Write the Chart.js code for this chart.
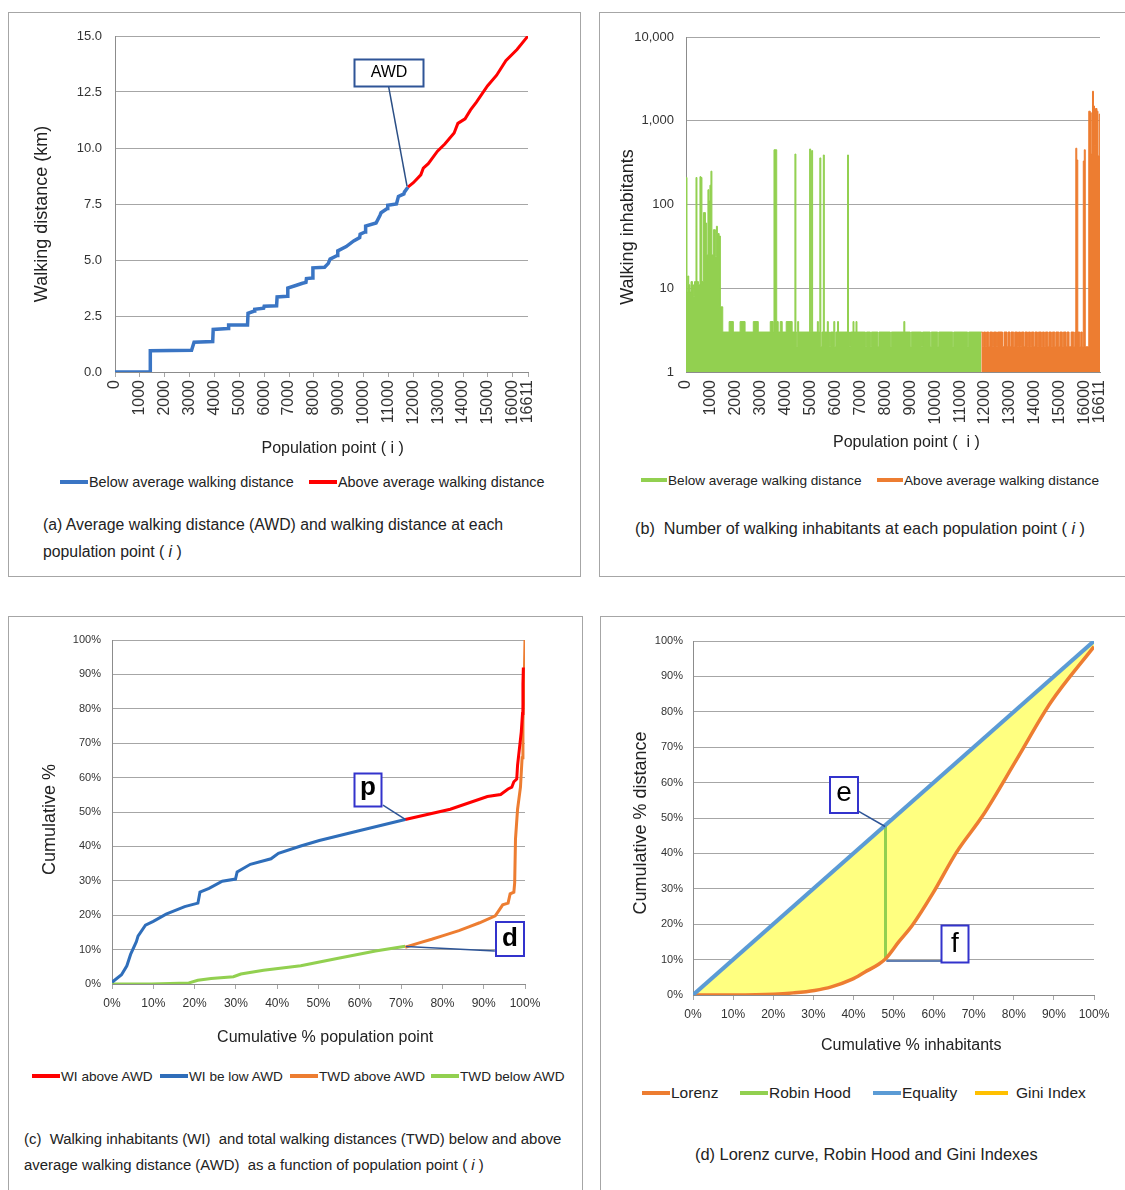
<!DOCTYPE html>
<html>
<head>
<meta charset="utf-8">
<script src="https://cdn.jsdelivr.net/npm/chart.js@4.4.1/dist/chart.umd.min.js"></script>
<style>
  body { margin: 0; background: #fff; width: 1125px; height: 1190px; position: relative; overflow: hidden;
         font-family: 'Liberation Sans', Arial, sans-serif; color: #222; }
  .panel { position: absolute; border: 1px solid #a6a6a6; box-sizing: border-box; }
  canvas { position: absolute; }
  .leg { position: absolute; font-size: 14.4px; line-height: 18px; white-space: nowrap; }
  .leg span { display: inline-block; width: 28px; height: 4px; vertical-align: middle; margin-right: 1px; position: relative; top: -1px; }
  .cap { position: absolute; font-size: 15.8px; line-height: 27px; white-space: nowrap; }
</style>
</head>
<body>
<div class="panel" style="left:8px;top:12px;width:573px;height:565px"></div>
<div class="panel" style="left:599px;top:12px;width:540px;height:565px"></div>
<div class="panel" style="left:8px;top:616px;width:575px;height:600px"></div>
<div class="panel" style="left:600px;top:616px;width:540px;height:600px"></div>

<canvas id="chartA" width="560" height="440" style="left:8px;top:20px"></canvas>
<canvas id="chartB" width="520" height="440" style="left:600px;top:20px"></canvas>
<canvas id="chartC" width="560" height="440" style="left:12px;top:625px"></canvas>
<canvas id="chartD" width="515" height="440" style="left:605px;top:625px"></canvas>

<div class="leg" style="left:60px;top:473px"><span style="background:#3a75c4"></span>Below average walking distance</div>
<div class="leg" style="left:309px;top:473px"><span style="background:#ff0000"></span>Above average walking distance</div>
<div class="cap" style="left:43px;top:511px">(a) Average walking distance (AWD) and walking distance at each<br>population point ( <i>i</i> )</div>

<div class="leg" style="left:641px;top:472px;font-size:13.6px"><span style="background:#92d050;width:26px"></span>Below average walking distance</div>
<div class="leg" style="left:877px;top:472px;font-size:13.6px"><span style="background:#ed7d31;width:26px"></span>Above average walking distance</div>
<div class="cap" style="left:635px;top:515px;font-size:16.2px">(b)&nbsp; Number of walking inhabitants at each population point ( <i>i</i> )</div>

<div class="leg" style="left:32px;top:1068px;font-size:13.6px"><span style="background:#ff0000"></span>WI above AWD</div>
<div class="leg" style="left:160px;top:1068px;font-size:13.6px"><span style="background:#2f6eba"></span>WI be low AWD</div>
<div class="leg" style="left:290px;top:1068px;font-size:13.6px"><span style="background:#ed7d31"></span>TWD above AWD</div>
<div class="leg" style="left:431px;top:1068px;font-size:13.6px"><span style="background:#92d050"></span>TWD below AWD</div>
<div class="cap" style="left:24px;top:1126px;line-height:26px;font-size:14.9px">(c)&nbsp; Walking inhabitants (WI)&nbsp; and total walking distances (TWD) below and above<br>average walking distance (AWD)&nbsp; as a function of population point ( <i>i</i> )</div>

<div class="leg" style="left:642px;top:1084px;font-size:15.5px"><span style="background:#ed7d31"></span>Lorenz</div>
<div class="leg" style="left:740px;top:1084px;font-size:15.5px"><span style="background:#92d050"></span>Robin Hood</div>
<div class="leg" style="left:873px;top:1084px;font-size:15.5px"><span style="background:#5b9bd5"></span>Equality</div>
<div class="leg" style="left:975px;top:1084px;font-size:15.5px"><span style="background:#ffc000;width:33px;margin-right:8px"></span>Gini Index</div>
<div class="cap" style="left:695px;top:1141px;font-size:16.4px">(d) Lorenz curve, Robin Hood and Gini Indexes</div>

<script>
const FONT = "'Liberation Sans', Arial, sans-serif";
Chart.defaults.font.family = FONT;
Chart.defaults.color = "#333";

// (a) walking distance (km) at population point i
const awdBelow = [[0, 0], [1410, 0], [1420, 0.95], [3080, 0.97], [3180, 1.33], [3930, 1.36], [3950, 1.9], [4550, 1.94],
  [4570, 2.1], [5330, 2.1], [5350, 2.62], [5600, 2.72], [5620, 2.8], [5980, 2.85], [6000, 2.94], [6500, 2.96],
  [6520, 3.35], [6930, 3.38], [6950, 3.75], [7240, 3.85], [7540, 3.96], [7680, 4.0], [7700, 4.17], [7940, 4.2],
  [7960, 4.65], [8430, 4.68], [8580, 4.85], [8650, 5.04], [8940, 5.2], [8960, 5.41], [9300, 5.6], [9600, 5.85],
  [9840, 6.0], [9860, 6.15], [10060, 6.25], [10080, 6.51], [10500, 6.65], [10660, 7.0], [10700, 7.11], [10950, 7.3],
  [10970, 7.44], [11320, 7.5], [11400, 7.84], [11620, 7.95], [11640, 8.03], [11780, 8.25]];
const awdAbove = [[11780, 8.25], [12000, 8.45], [12300, 8.8], [12400, 9.1], [12600, 9.3], [12970, 9.86], [13265, 10.18],
  [13640, 10.67], [13790, 11.1], [14080, 11.3], [14300, 11.7], [14530, 12.04], [14980, 12.77], [15350, 13.25],
  [15720, 13.9], [16170, 14.4], [16611, 15.0]];
const popTicks = [0, 1000, 2000, 3000, 4000, 5000, 6000, 7000, 8000, 9000, 10000, 11000, 12000, 13000, 14000, 15000, 16000, 16611];
const kmTicks = [0, 2.5, 5, 7.5, 10, 12.5, 15];

// (b) walking inhabitants at population point i, [from i, count] held until the next entry
const wiBelowSteps = [[0, 210], [40, 9], [70, 14], [110, 11], [160, 9], [200, 12], [260, 11], [300, 8], [340, 12], [400, 210],
  [440, 12], [500, 11], [560, 215], [600, 210], [640, 12], [700, 80], [780, 60], [830, 25], [880, 150], [920, 110],
  [960, 170], [1000, 250], [1040, 25], [1100, 50], [1180, 24], [1220, 55], [1260, 45], [1330, 42], [1380, 6], [1475, 3],
  [1730, 4], [1900, 3], [2170, 4], [2370, 3], [2700, 4], [2900, 3], [3380, 4], [3500, 3], [3530, 450], [3640, 4],
  [3700, 3], [3780, 4], [3860, 3], [4020, 4], [4260, 3], [4370, 400], [4410, 3], [4440, 2], [4480, 4], [4520, 3],
  [4960, 460], [5000, 3], [5040, 440], [5080, 3], [5270, 4], [5310, 3], [5370, 360], [5410, 2], [5450, 3], [5510, 390],
  [5550, 3], [5670, 4], [5710, 3], [5760, 2], [5800, 3], [5930, 4], [5970, 2], [6010, 3], [6080, 4], [6120, 3],
  [6480, 390], [6520, 3], [6560, 2], [6600, 3], [6700, 4], [6740, 3], [6820, 4], [6860, 3], [7200, 2], [7240, 3],
  [7400, 2], [7440, 3], [7700, 2], [7740, 3], [8200, 2], [8240, 3], [8740, 4], [8780, 3], [9000, 2], [9040, 3],
  [9450, 2], [9490, 3], [9800, 2], [9840, 3], [10100, 2], [10140, 3], [10700, 2], [10740, 3], [11300, 2], [11340, 3],
  [11847, 3]];
const wiAboveSteps = [[11847, 3], [11900, 2], [11940, 3], [12020, 2], [12060, 3], [12150, 2], [12190, 3], [12300, 2],
  [12340, 3], [12460, 2], [12500, 3], [12700, 2], [12760, 3], [12880, 2], [12920, 3], [13000, 2], [13040, 3], [13150, 2],
  [13190, 3], [13300, 2], [13340, 3], [13420, 2], [13460, 3], [13560, 2], [13600, 3], [13700, 2], [13740, 3], [13820, 2],
  [13860, 3], [13960, 2], [14000, 3], [14100, 2], [14140, 3], [14260, 2], [14300, 3], [14380, 2], [14420, 3], [14520, 2],
  [14560, 3], [14660, 2], [14700, 3], [14800, 2], [14840, 3], [14960, 2], [15000, 3], [15100, 2], [15140, 3], [15250, 2],
  [15290, 3], [15370, 2], [15450, 3], [15560, 2], [15600, 3], [15640, 470], [15680, 340], [15720, 3], [15800, 2],
  [15840, 3], [15900, 2], [15940, 330], [15980, 450], [16020, 2], [16160, 1300], [16220, 1250], [16260, 400],
  [16310, 2250], [16350, 1500], [16390, 500], [16430, 1400], [16490, 1300], [16530, 380], [16580, 1200], [16611, 1200]];
const logTicks = [1, 10, 100, 1000, 10000];

// (c) cumulative % against cumulative % population point
const wiBelowCum = [[0, 0.5], [2.3, 2.7], [3.6, 5.3], [4.5, 8.6], [5.9, 12.3], [6.3, 13.9], [8.1, 17.1], [10, 18.2],
  [13.1, 20.3], [17.6, 22.5], [20.8, 23.5], [21.3, 26.7], [23.5, 27.8], [26.7, 29.9], [29.9, 30.5], [30.3, 32.6],
  [33.5, 34.8], [38.5, 36.4], [40.3, 38.0], [45.7, 40.1], [50.2, 41.7], [59.3, 44.4], [71.0, 47.8]];
const wiAboveCum = [[71, 47.8], [81.9, 50.8], [90.9, 54.5], [94.1, 55.1], [95.9, 56.7], [96.8, 57.2], [97.3, 58.8],
  [98, 59.6], [98.2, 63.6], [98.6, 67.9], [99.1, 73.3], [99.4, 78.6], [99.5, 87.2], [99.6, 92]];
const twdAboveCum = [[71, 10.7], [74, 11.8], [77.4, 13.0], [80, 14.0], [84, 15.5], [86.4, 16.6], [89, 17.8], [92.8, 19.8],
  [93.7, 21.4], [94.6, 23.0], [95.9, 23.5], [96.4, 26.2], [97.3, 26.7], [97.5, 29.4], [97.7, 42.2], [98.2, 50.8],
  [98.9, 57.2], [99.3, 65.8], [99.5, 76.5], [99.8, 87.2], [100, 100]];
const twdBelowCum = [[0, 0], [9.5, 0], [18.6, 0.3], [20.8, 1.1], [24, 1.6], [29.4, 2.1], [31.2, 2.9], [36.7, 4],
  [45.7, 5.3], [54.8, 7.5], [63.8, 9.6], [71, 11]];
const pctTicks = [0, 10, 20, 30, 40, 50, 60, 70, 80, 90, 100];

// (d) Lorenz curve
const lorenz = [[0, 0], [10, 0], [20.2, 0.2], [25, 0.6], [30.3, 1.3], [34.5, 2.3], [39.6, 4.4], [42.9, 6.5], [46.3, 8.7],
  [48, 10.2], [51.3, 15], [54.7, 19.7], [59.8, 28.7], [65.7, 40.3], [72.4, 50.9], [80.8, 66.7], [89.2, 82.6], [100, 98.4]];
const equality = [[0, 0], [100, 100]];
const robinHood = [[48, 10.2], [48, 47.8]];

const pts = arr => arr.map(([x, y]) => ({ x, y }));
// non-breaking spaces used to nudge an axis title off the centre, like the original
const pad = n => "\u00a0".repeat(n);

// callout boxes with a leader line, placed in data units
const calloutPlugin = {
  id: "callouts",
  afterDatasetsDraw(chart, args, opts) {
    const { ctx } = chart;
    const sx = chart.scales.x, sy = chart.scales.y;
    (opts.items || []).forEach(b => {
      ctx.save();
      ctx.strokeStyle = b.lineColor;
      ctx.lineWidth = 1.5;
      ctx.beginPath();
      ctx.moveTo(sx.getPixelForValue(b.from[0]), sy.getPixelForValue(b.from[1]));
      ctx.lineTo(sx.getPixelForValue(b.to[0]), sy.getPixelForValue(b.to[1]));
      ctx.stroke();
      const cx = Math.round(sx.getPixelForValue(b.at[0])), cy = Math.round(sy.getPixelForValue(b.at[1]));
      ctx.fillStyle = "#fff";
      ctx.fillRect(cx - b.w / 2, cy - b.h / 2, b.w, b.h);
      ctx.strokeStyle = b.border;
      ctx.lineWidth = 2;
      ctx.strokeRect(cx - b.w / 2, cy - b.h / 2, b.w, b.h);
      ctx.fillStyle = "#000";
      ctx.font = b.font;
      ctx.textAlign = "center";
      ctx.textBaseline = "middle";
      ctx.fillText(b.text, cx, cy + (b.dy || 0));
      ctx.restore();
    });
  }
};

function fixTicks(list) {
  return scale => { scale.ticks = list.map(v => ({ value: v })); };
}

// y grid: the gap between labels and axis is an invisible tick, so the label padding does not push the plot down
const gridY = gap => ({ color: "#a6a6a6", lineWidth: 1, drawTicks: true, tickLength: gap, tickColor: "rgba(0,0,0,0)" });
const gridX = { drawOnChartArea: false, drawTicks: true, tickLength: 5, color: "#a6a6a6" };
const borderGray = { display: true, color: "#8c8c8c", width: 1 };

// (a)
new Chart(document.getElementById("chartA"), {
  type: "line",
  data: {
    datasets: [
      { label: "Below average walking distance", data: pts(awdBelow), borderColor: "#3a75c4", borderWidth: 3.5, pointRadius: 0, tension: 0 },
      { label: "Above average walking distance", data: pts(awdAbove), borderColor: "#ff0000", borderWidth: 3, pointRadius: 0, tension: 0 }
    ]
  },
  plugins: [calloutPlugin],
  options: {
    responsive: false, animation: false,
    layout: { autoPadding: false, padding: { top: 16, right: 40, bottom: 0, left: 0 } },
    scales: {
      x: {
        type: "linear", min: 0, max: 16611,
        afterBuildTicks: fixTicks(popTicks),
        afterFit: s => { s.height = 88; },
        grid: gridX, border: borderGray,
        ticks: { minRotation: 90, maxRotation: 90, padding: 3, font: { size: 16 }, autoSkip: false, callback: v => String(v) },
        title: { display: true, text: pad(5) + "Population point ( i )", font: { size: 16 }, padding: { top: 0, bottom: 2 }, color: "#222" }
      },
      y: {
        min: 0, max: 15,
        afterBuildTicks: fixTicks(kmTicks),
        afterFit: s => { s.width = 107; },
        grid: gridY(13), border: borderGray,
        ticks: { padding: 0, font: { size: 13 }, callback: v => v.toFixed(1) },
        title: { display: true, text: "Walking distance (km)" + pad(4), font: { size: 18 }, padding: { top: 23, bottom: 0 }, color: "#222" }
      }
    },
    plugins: {
      legend: { display: false }, tooltip: { enabled: false },
      callouts: { items: [
        { text: "AWD", at: [11040, 13.37], w: 69, h: 27, from: [11000, 12.77], to: [11745, 8.3],
          border: "#2f5597", lineColor: "#2b4f86", font: "16px " + FONT }
      ] }
    }
  }
});

// (b)
new Chart(document.getElementById("chartB"), {
  type: "line",
  data: {
    datasets: [
      { label: "Below average walking distance", data: pts(wiBelowSteps), stepped: true, fill: "start",
        borderColor: "#92d050", backgroundColor: "#92d050", borderWidth: 1, pointRadius: 0 },
      { label: "Above average walking distance", data: pts(wiAboveSteps), stepped: true, fill: "start",
        borderColor: "#ed7d31", backgroundColor: "#ed7d31", borderWidth: 1, pointRadius: 0 }
    ]
  },
  options: {
    responsive: false, animation: false,
    layout: { autoPadding: false, padding: { top: 17, right: 20, bottom: 0, left: 0 } },
    scales: {
      x: {
        type: "linear", min: 0, max: 16611,
        afterBuildTicks: fixTicks(popTicks),
        afterFit: s => { s.height = 88; },
        grid: { drawOnChartArea: false, drawTicks: true, tickLength: 8, tickColor: "rgba(0,0,0,0)" }, border: borderGray,
        ticks: { minRotation: 90, maxRotation: 90, padding: 0, font: { size: 16 }, autoSkip: false, callback: v => String(v) },
        title: { display: true, text: pad(6) + "Population point (  i )", font: { size: 16 }, padding: { top: 0, bottom: 8 }, color: "#222" }
      },
      y: {
        type: "logarithmic", min: 1, max: 10000,
        afterBuildTicks: fixTicks(logTicks),
        afterFit: s => { s.width = 86; },
        grid: gridY(12), border: { display: true, color: "#8c8c8c" },
        ticks: { padding: 0, font: { size: 13 }, callback: v => v.toLocaleString("en-US") },
        title: { display: true, text: "Walking inhabitants" + pad(9), font: { size: 18 }, padding: { top: 17, bottom: 0 }, color: "#222" }
      }
    },
    plugins: { legend: { display: false }, tooltip: { enabled: false } }
  }
});

// (c)
new Chart(document.getElementById("chartC"), {
  type: "line",
  data: {
    datasets: [
      { label: "WI above AWD", data: pts(wiAboveCum), borderColor: "#ff0000", borderWidth: 3, pointRadius: 0 },
      { label: "WI be low AWD", data: pts(wiBelowCum), borderColor: "#2f6eba", borderWidth: 3, pointRadius: 0 },
      { label: "TWD above AWD", data: pts(twdAboveCum), borderColor: "#ed7d31", borderWidth: 3, pointRadius: 0 },
      { label: "TWD below AWD", data: pts(twdBelowCum), borderColor: "#92d050", borderWidth: 3, pointRadius: 0 }
    ]
  },
  plugins: [calloutPlugin],
  options: {
    responsive: false, animation: false,
    layout: { autoPadding: false, padding: { top: 15, right: 47, bottom: 0, left: 0 } },
    scales: {
      x: {
        type: "linear", min: 0, max: 100,
        afterBuildTicks: fixTicks(pctTicks),
        afterFit: s => { s.height = 81; },
        grid: gridX, border: borderGray,
        ticks: { padding: 7, font: { size: 12 }, callback: v => v + "%" },
        title: { display: true, text: pad(3) + "Cumulative % population point", font: { size: 16 }, padding: { top: 0, bottom: 18 }, color: "#222" }
      },
      y: {
        min: 0, max: 100,
        afterBuildTicks: fixTicks(pctTicks),
        afterFit: s => { s.width = 100; },
        grid: gridY(11), border: borderGray,
        ticks: { padding: 0, font: { size: 11 }, callback: v => v + "%" },
        title: { display: true, text: "Cumulative %" + pad(3), font: { size: 18 }, padding: { top: 27, bottom: 0 }, color: "#222" }
      }
    },
    plugins: {
      legend: { display: false }, tooltip: { enabled: false },
      callouts: { items: [
        { text: "p", at: [61.9, 56.5], w: 27, h: 33, from: [65.6, 52.0], to: [71.2, 47.7],
          border: "#3333cc", lineColor: "#2e5597", font: "bold 26px " + FONT, dy: -2 },
        { text: "d", at: [96.4, 13.1], w: 28, h: 34, from: [71.2, 10.9], to: [92.7, 9.6],
          border: "#3333cc", lineColor: "#2e5597", font: "bold 26px " + FONT, dy: 0 }
      ] }
    }
  }
});

// (d)
new Chart(document.getElementById("chartD"), {
  type: "line",
  data: {
    datasets: [
      { label: "Lorenz", data: pts(lorenz), borderColor: "#ed7d31", borderWidth: 3.5, pointRadius: 0, cubicInterpolationMode: "monotone", order: 1 },
      { label: "Robin Hood", data: pts(robinHood), borderColor: "#92d050", borderWidth: 3, pointRadius: 0, order: 2 },
      { label: "Equality", data: pts(equality), borderColor: "#5b9bd5", borderWidth: 4, pointRadius: 0, order: 0 },
      { label: "Gini Index", data: pts(equality), borderWidth: 0, borderColor: "rgba(0,0,0,0)", pointRadius: 0,
        fill: { target: 0 }, backgroundColor: "#ffff80", order: 5 }
    ]
  },
  plugins: [calloutPlugin],
  options: {
    responsive: false, animation: false,
    layout: { autoPadding: false, padding: { top: 16, right: 26, bottom: 0, left: 0 } },
    scales: {
      x: {
        type: "linear", min: 0, max: 100,
        afterBuildTicks: fixTicks(pctTicks),
        afterFit: s => { s.height = 70; },
        grid: gridX, border: borderGray,
        ticks: { padding: 7, font: { size: 12 }, callback: v => v + "%" },
        title: { display: true, text: pad(8) + "Cumulative % inhabitants", font: { size: 16 }, padding: { top: 0, bottom: 10 }, color: "#222" }
      },
      y: {
        min: 0, max: 100,
        afterBuildTicks: fixTicks(pctTicks),
        afterFit: s => { s.width = 88; },
        grid: gridY(10), border: borderGray,
        ticks: { padding: 0, font: { size: 11 }, callback: v => v + "%" },
        title: { display: true, text: "Cumulative % distance" + pad(2), font: { size: 18 }, padding: { top: 25, bottom: 0 }, color: "#222" }
      }
    },
    plugins: {
      legend: { display: false }, tooltip: { enabled: false },
      callouts: { items: [
        { text: "e", at: [37.7, 56.5], w: 28, h: 36, from: [41.1, 52.0], to: [47.9, 47.6],
          border: "#3333cc", lineColor: "#2e5597", font: "28px " + FONT, dy: -2 },
        { text: "f", at: [65.3, 14.5], w: 27, h: 37, from: [48.2, 9.6], to: [62.1, 9.6],
          border: "#3333cc", lineColor: "#2e5597", font: "28px " + FONT, dy: 0 }
      ] }
    }
  }
});
</script>
</body>
</html>
